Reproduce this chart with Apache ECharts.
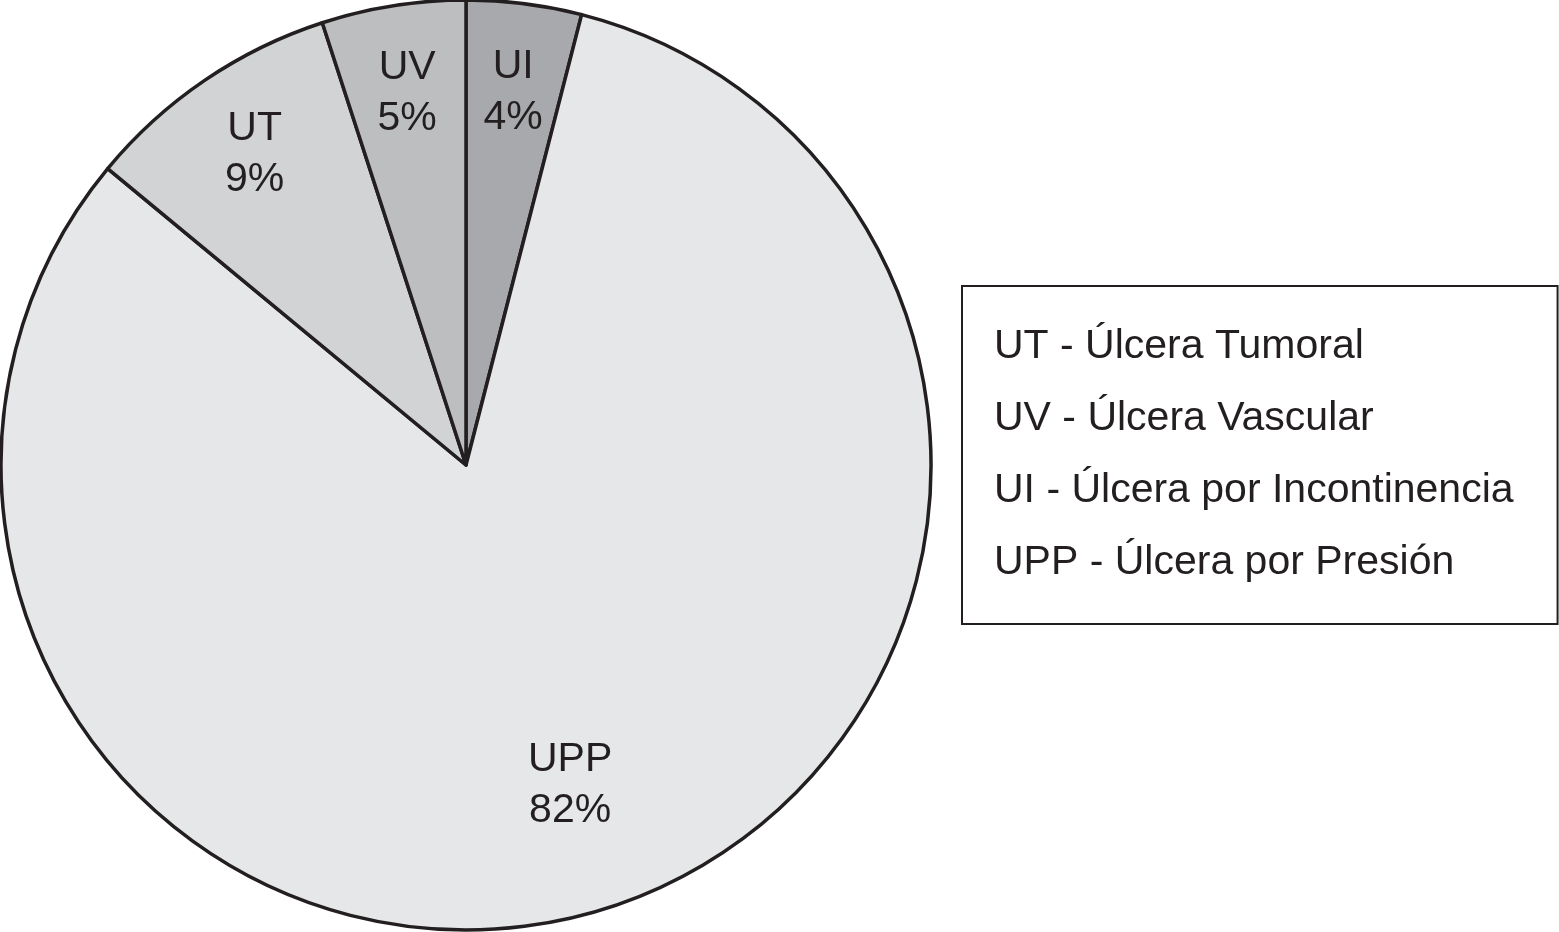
<!DOCTYPE html>
<html>
<head>
<meta charset="utf-8">
<script src="https://cdn.jsdelivr.net/npm/echarts@6/dist/echarts.min.js"></script>
<style>
  html, body { margin: 0; padding: 0; background: #fff; }
  #chart { width: 1559px; height: 932px; }
</style>
</head>
<body>
<div id="chart"></div>
<script>
// slices, clockwise from 12 o'clock
var codes = ['UI', 'UPP', 'UT', 'UV'];
var values = [4, 82, 9, 5];
var names = ['Úlcera por Incontinencia', 'Úlcera por Presión', 'Úlcera Tumoral', 'Úlcera Vascular'];
var legendOrder = ['UT', 'UV', 'UI', 'UPP'];
var fills = ['#a7a9ac', '#e6e7e8', '#d1d3d4', '#bcbec0'];

var ink = '#231f20';
var font = 'Liberation Sans, Arial, Helvetica, sans-serif';

var pieData = codes.map(function (c, i) {
  return { name: c, value: values[i], itemStyle: { color: fills[i] } };
});

// transparent copy of the pie, only for the slice texts
// (big slice text sits a bit closer to the centre than the small ones)
function labelSeries(outer, onlyBig) {
  return {
    type: 'pie',
    center: [466, 465],
    radius: [0, outer],
    startAngle: 90,
    clockwise: true,
    silent: true,
    legendHoverLink: false,
    itemStyle: { color: 'rgba(0,0,0,0)', borderWidth: 0 },
    label: {
      show: true,
      position: 'inside',
      color: ink,
      fontSize: 41,
      fontFamily: font,
      lineHeight: 51,
      formatter: function (p) { return p.name + '\n' + p.value + '%'; }
    },
    labelLine: { show: false },
    data: codes.map(function (c, i) {
      var big = values[i] > 50;
      return { name: c, value: values[i], label: { show: big === onlyBig } };
    })
  };
}

var myChart = echarts.init(document.getElementById('chart'));

var option = {
  backgroundColor: '#fff',
  animation: false,
  legend: {
    orient: 'vertical',
    left: 962,
    top: 286,
    data: legendOrder,
    icon: 'rect',
    itemWidth: 0,
    itemHeight: 0,
    itemGap: 22,
    padding: [36, 44, 36, 26],
    borderColor: ink,
    borderWidth: 2,
    selectedMode: false,
    formatter: function (n) {
      return n + ' - ' + names[codes.indexOf(n)];
    },
    textStyle: { color: ink, fontSize: 41, fontFamily: font, lineHeight: 50 }
  },
  series: [
    {
      type: 'pie',
      center: [466, 465],
      radius: [0, 465],
      startAngle: 90,
      clockwise: true,
      silent: true,
      label: { show: false },
      labelLine: { show: false },
      itemStyle: { borderColor: ink, borderWidth: 3.5 },
      data: pieData
    },
    labelSeries(746, false),
    labelSeries(668, true)
  ]
};

myChart.setOption(option);
window.addEventListener('resize', function () { myChart.resize(); });
</script>
</body>
</html>
